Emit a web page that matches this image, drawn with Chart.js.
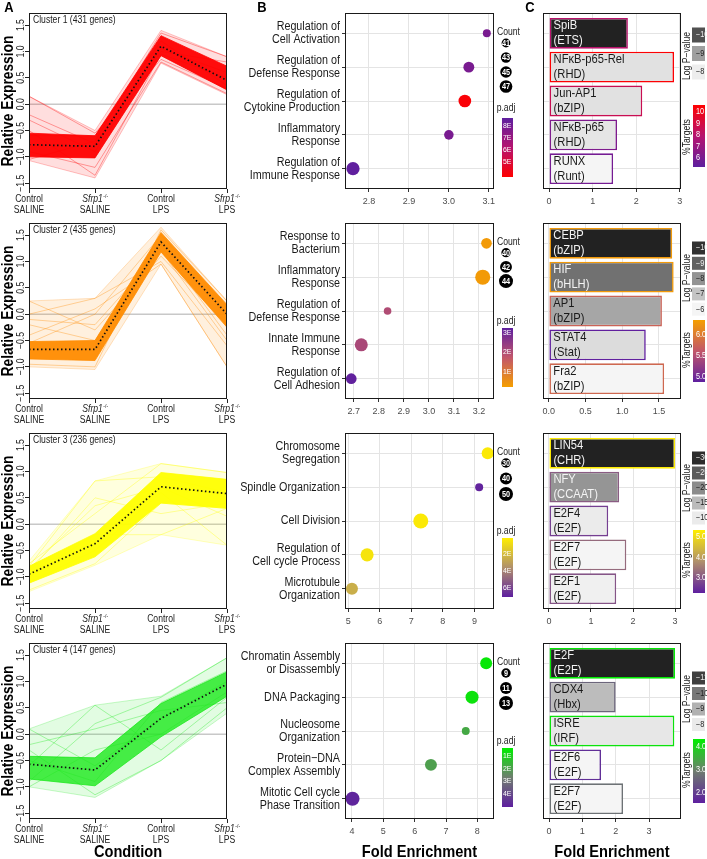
<!DOCTYPE html>
<html>
<head>
<meta charset="utf-8">
<script src="https://cdn.jsdelivr.net/npm/chart.js"></script>
<style>
  body { margin: 0; background: #fff; width: 707px; height: 859px; position: relative; overflow: hidden; }
  canvas { position: absolute; }
</style>
</head>
<body>
<script>
/* ---------- data ---------- */
const conditionTop = ["Control", "Sfrp1", "Control", "Sfrp1"];
const conditionMark = ["", "-/-", "", "-/-"];
const conditionBottom = ["SALINE", "SALINE", "LPS", "LPS"];
const exprTicks = ["−1.5", "−1.0", "−0.5", "0.0", "0.5", "1.0", "1.5"];
const clusterNames = ["Cluster 1 (431 genes)", "Cluster 2 (435 genes)", "Cluster 3 (236 genes)", "Cluster 4 (147 genes)"];

// cluster 1
const c1Mean = [-0.77, -0.80, 1.10, 0.45];
const c1CoreLow = [-1.00, -1.02, 0.92, 0.27];
const c1CoreHigh = [-0.55, -0.60, 1.30, 0.72];
const c1OuterLow = [-1.07, -1.40, 0.78, 0.18];
const c1OuterHigh = [0.15, -0.50, 1.40, 0.90];
const c1Genes = [[0.15, -0.55, 0.85, 0.30], [-0.30, -0.90, 1.00, 0.80], [-0.50, -1.35, 0.95, 0.50], [-1.05, -0.70, 1.35, 0.90], [-0.90, -1.20, 0.80, 0.20], [-0.60, -0.60, 1.20, 0.35], [-0.20, -0.75, 1.05, 0.60]];
const c1Terms = [["Regulation of", "Cell Activation"], ["Regulation of", "Defense Response"], ["Regulation of", "Cytokine Production"], ["Inflammatory", "Response"], ["Regulation of", "Immune Response"]];
const c1Fold = [3.095, 3.05, 3.04, 3.00, 2.76];
const c1Count = [40, 44, 47, 42, 48];
const c1Padj = [7.9, 7.9, 3.9, 7.9, 8.6];
const c1FoldTicks = ["2.8", "2.9", "3.0", "3.1"];
const c1CountBreaks = [41, 43, 45, 47];
const c1PadjTicks = [8, 7, 6, 5];
const c1Motifs = ["SpiB", "NFκB-p65-Rel", "Jun-AP1", "NFκB-p65", "RUNX"];
const c1Families = ["(ETS)", "(RHD)", "(bZIP)", "(RHD)", "(Runt)"];
const c1MotifFold = [1.81, 2.87, 2.14, 1.56, 1.47];
const c1LogP = [-10.6, -8.15, -8.15, -8.1, -7.9];
const c1Targets = [8.0, 10.5, 8.6, 6.2, 5.9];
const c1MotifTicks = ["0", "1", "2", "3"];
const c1LogPBreaks = ["−10", "−9", "−8"];
const c1TargetBreaks = ["10", "9", "8", "7", "6"];

// cluster 2
const c2Mean = [-0.67, -0.67, 1.37, 0.00];
const c2CoreLow = [-0.85, -0.88, 1.18, -0.25];
const c2CoreHigh = [-0.52, -0.50, 1.55, 0.18];
const c2OuterLow = [-1.00, -1.05, 0.95, -1.00];
const c2OuterHigh = [0.25, 0.30, 1.65, 0.25];
const c2Genes = [[0.25, -0.30, 1.10, -0.20], [0.00, 0.30, 1.00, -0.60], [-0.40, 0.10, 0.95, -1.00], [-0.95, -1.00, 1.60, 0.25], [-0.20, -0.50, 1.30, -0.40], [-0.55, 0.00, 1.50, 0.10], [-0.10, -0.20, 1.20, -0.50]];
const c2Terms = [["Response to", "Bacterium"], ["Inflammatory", "Response"], ["Regulation of", "Defense Response"], ["Innate Immune", "Response"], ["Regulation of", "Cell Adhesion"]];
const c2Fold = [3.23, 3.215, 2.835, 2.73, 2.69];
const c2Count = [41, 45, 39, 43, 41];
const c2Padj = [0.3, 0.3, 2.0, 2.1, 3.2];
const c2FoldTicks = ["2.7", "2.8", "2.9", "3.0", "3.1", "3.2"];
const c2CountBreaks = [40, 42, 44];
const c2PadjTicks = [3, 2, 1];
const c2Motifs = ["CEBP", "HIF", "AP1", "STAT4", "Fra2"];
const c2Families = ["(bZIP)", "(bHLH)", "(bZIP)", "(Stat)", "(bZIP)"];
const c2MotifFold = [1.68, 1.70, 1.54, 1.32, 1.57];
const c2LogP = [-10.3, -8.7, -7.6, -6.5, -6.0];
const c2Targets = [6.3, 6.3, 5.75, 4.9, 5.8];
const c2MotifTicks = ["0.0", "0.5", "1.0", "1.5"];
const c2LogPBreaks = ["−10", "−9", "−8", "−7", "−6"];
const c2TargetBreaks = ["6.0", "5.5", "5.0"];

// cluster 3
const c3Mean = [-0.95, -0.37, 0.71, 0.58];
const c3CoreLow = [-1.12, -0.62, 0.40, 0.30];
const c3CoreHigh = [-0.80, -0.18, 0.98, 0.85];
const c3OuterLow = [-1.28, -0.78, -0.20, -0.40];
const c3OuterHigh = [-0.70, 0.82, 1.15, 0.98];
const c3Genes = [[-1.25, -0.75, 0.40, 0.30], [-0.80, 0.82, 0.90, 0.60], [-0.90, 0.50, 0.20, 0.40], [-1.00, -0.20, -0.20, 0.30], [-0.75, 0.20, 1.15, 0.98], [-1.10, -0.50, 0.60, -0.40], [-0.85, 0.35, 0.70, 0.15]];
const c3Terms = [["Chromosome", "Segregation"], ["Spindle Organization"], ["Cell Division"], ["Regulation of", "Cell cycle Process"], ["Microtubule", "Organization"]];
const c3Fold = [9.42, 9.15, 7.30, 5.60, 5.12];
const c3Count = [40, 25, 55, 45, 40];
const c3Padj = [0.3, 6.9, 0.3, 0.5, 2.5];
const c3FoldTicks = ["5", "6", "7", "8", "9"];
const c3CountBreaks = [30, 40, 50];
const c3PadjTicks = [2, 4, 6];
const c3Motifs = ["LIN54", "NFY", "E2F4", "E2F7", "E2F1"];
const c3Families = ["(CHR)", "(CCAAT)", "(E2F)", "(E2F)", "(E2F)"];
const c3MotifFold = [3.0, 1.67, 1.41, 1.84, 1.60];
const c3LogP = [-31, -19, -10, -9, -9.5];
const c3Targets = [5.3, 3.1, 2.7, 3.3, 3.0];
const c3MotifTicks = ["0", "1", "2", "3"];
const c3LogPBreaks = ["−30", "−25", "−20", "−15", "−10"];
const c3TargetBreaks = ["5.0", "4.0", "3.0"];

// cluster 4
const c4Mean = [-0.57, -0.68, 0.30, 0.95];
const c4CoreLow = [-0.85, -0.98, -0.05, 0.72];
const c4CoreHigh = [-0.42, -0.45, 0.58, 1.18];
const c4OuterLow = [-1.00, -1.20, -0.50, 0.40];
const c4OuterHigh = [0.10, 0.55, 0.72, 1.45];
const c4Genes = [[0.10, -0.60, 0.30, 1.00], [-0.60, 0.55, -0.30, 0.70], [-0.90, 0.20, 0.70, 1.45], [-0.30, -1.15, -0.50, 0.50], [-1.00, -0.30, 0.00, 0.80], [-0.50, -0.90, 0.60, 1.20], [-0.20, 0.10, 0.45, 0.60]];
const c4Terms = [["Chromatin Assembly", "or Disassembly"], ["DNA Packaging"], ["Nucleosome", "Organization"], ["Protein−DNA", "Complex Assembly"], ["Mitotic Cell cycle", "Phase Transition"]];
const c4Fold = [8.28, 7.83, 7.63, 6.52, 4.02];
const c4Count = [11, 12, 8, 11, 13];
const c4Padj = [0.5, 0.6, 1.8, 2.0, 4.9];
const c4FoldTicks = ["4", "5", "6", "7", "8"];
const c4CountBreaks = [9, 11, 13];
const c4PadjTicks = [1, 2, 3, 4];
const c4Motifs = ["E2F", "CDX4", "ISRE", "E2F6", "E2F7"];
const c4Families = ["(E2F)", "(Hbx)", "(IRF)", "(E2F)", "(E2F)"];
const c4MotifFold = [3.78, 2.0, 3.76, 1.56, 2.22];
const c4LogP = [-11.5, -8.8, -8.05, -7.8, -7.8];
const c4Targets = [4.3, 2.6, 4.2, 1.8, 2.8];
const c4MotifTicks = ["0", "1", "2", "3"];
const c4LogPBreaks = ["−11", "−10", "−9", "−8"];
const c4TargetBreaks = ["4.0", "3.0", "2.0"];

/* ---------- styling ---------- */
const SANS = "'Liberation Sans', Arial, Helvetica, sans-serif";
const SQ = 0.86; // the figure's lettering is a little condensed
const PURPLE = "#5e1f9f";
const GRID = "#e4e4e4";
Chart.defaults.font.family = SANS;

const clusters = [
  {
    title: clusterNames[0], band: "#ff0000", coreAlpha: 0.95,
    mean: c1Mean, coreLow: c1CoreLow, coreHigh: c1CoreHigh, outerLow: c1OuterLow, outerHigh: c1OuterHigh, genes: c1Genes,
    terms: c1Terms, fold: c1Fold, count: c1Count, padj: c1Padj, foldTicks: c1FoldTicks, countBreaks: c1CountBreaks, padjTicks: c1PadjTicks,
    motifs: c1Motifs, families: c1Families, motifFold: c1MotifFold, logP: c1LogP, targets: c1Targets,
    motifTicks: c1MotifTicks, logPBreaks: c1LogPBreaks, targetBreaks: c1TargetBreaks,
    foldRange: [2.74, 3.113], motifRange: [-0.14, 3.03], countDomain: [40, 48], rRange: [4, 6.6],
    padjRamp: ["#ff0000", "#b5136f", PURPLE], padjBar: [3.75, 8.67],
    targetRamp: [PURPLE, "#b5136f", "#ff0000"], targetBar: [5.2, 10.6], greyRange: [-10.6, -7.9],
    lay: { countY: 30, countStep: 14.5, padjY: 95.5, logTitle: 43, swY: 22, swStep: 18.5, swH: 15, tgTitle: 124, tgTop: 92, tgBot: 154 }
  },
  {
    title: clusterNames[1], band: "#ff8c00", coreAlpha: 0.95,
    mean: c2Mean, coreLow: c2CoreLow, coreHigh: c2CoreHigh, outerLow: c2OuterLow, outerHigh: c2OuterHigh, genes: c2Genes,
    terms: c2Terms, fold: c2Fold, count: c2Count, padj: c2Padj, foldTicks: c2FoldTicks, countBreaks: c2CountBreaks, padjTicks: c2PadjTicks,
    motifs: c2Motifs, families: c2Families, motifFold: c2MotifFold, logP: c2LogP, targets: c2Targets,
    motifTicks: c2MotifTicks, logPBreaks: c2LogPBreaks, targetBreaks: c2TargetBreaks,
    foldRange: [2.665, 3.26], motifRange: [-0.08, 1.80], countDomain: [39, 45], rRange: [3.8, 7.5],
    padjRamp: ["#f59f00", "#c2566a", PURPLE], padjBar: [0.2, 3.25],
    targetRamp: [PURPLE, "#c2566a", "#f59f00"], targetBar: [4.88, 6.36], greyRange: [-10.3, -6.0],
    lay: { countY: 29.7, countStep: 14.2, padjY: 98, logTitle: 55, swY: 25, swStep: 15.3, swH: 13, tgTitle: 127, tgTop: 97, tgBot: 159 }
  },
  {
    title: clusterNames[2], band: "#ffff00", coreAlpha: 0.95,
    mean: c3Mean, coreLow: c3CoreLow, coreHigh: c3CoreHigh, outerLow: c3OuterLow, outerHigh: c3OuterHigh, genes: c3Genes,
    terms: c3Terms, fold: c3Fold, count: c3Count, padj: c3Padj, foldTicks: c3FoldTicks, countBreaks: c3CountBreaks, padjTicks: c3PadjTicks,
    motifs: c3Motifs, families: c3Families, motifFold: c3MotifFold, logP: c3LogP, targets: c3Targets,
    motifTicks: c3MotifTicks, logPBreaks: c3LogPBreaks, targetBreaks: c3TargetBreaks,
    foldRange: [4.9, 9.62], motifRange: [-0.14, 3.14], countDomain: [25, 55], rRange: [4, 7.5],
    padjRamp: [PURPLE, "#b0906c", "#ffee00"], padjBar: [7.06, 0.12],
    targetRamp: [PURPLE, "#b0906c", "#ffee00"], targetBar: [2.27, 5.34], greyRange: [-31, -9],
    lay: { countY: 30, countStep: 15.5, padjY: 98, logTitle: 55, swY: 25, swStep: 15, swH: 13, tgTitle: 127, tgTop: 97, tgBot: 160 }
  },
  {
    title: clusterNames[3], band: "#1ee81e", coreAlpha: 0.8,
    mean: c4Mean, coreLow: c4CoreLow, coreHigh: c4CoreHigh, outerLow: c4OuterLow, outerHigh: c4OuterHigh, genes: c4Genes,
    terms: c4Terms, fold: c4Fold, count: c4Count, padj: c4Padj, foldTicks: c4FoldTicks, countBreaks: c4CountBreaks, padjTicks: c4PadjTicks,
    motifs: c4Motifs, families: c4Families, motifFold: c4MotifFold, logP: c4LogP, targets: c4Targets,
    motifTicks: c4MotifTicks, logPBreaks: c4LogPBreaks, targetBreaks: c4TargetBreaks,
    foldRange: [3.78, 8.53], motifRange: [-0.18, 3.96], countDomain: [7.5, 13], rRange: [3.5, 7],
    padjRamp: [PURPLE, "#6f7d6f", "#00ee00"], padjBar: [5.05, 0.35],
    targetRamp: [PURPLE, "#6f7d6f", "#00ee00"], targetBar: [1.57, 4.35], greyRange: [-11.5, -7.8],
    lay: { countY: 30, countStep: 15, padjY: 98, logTitle: 56, swY: 35, swStep: 15.5, swH: 13, tgTitle: 127, tgTop: 96, tgBot: 160 }
  }
];

/* ---------- helpers ---------- */
function num(s) { return parseFloat(String(s).replace("−", "-")); }
function rgb(hex) { const n = parseInt(hex.slice(1), 16); return [n >> 16, (n >> 8) & 255, n & 255]; }
function fade(hex, a) { return "rgba(" + rgb(hex).join(",") + "," + a + ")"; }
function mix(a, b, t) {
  const p = rgb(a), q = rgb(b);
  return "rgb(" + p.map((v, i) => Math.round(v + (q[i] - v) * t)).join(",") + ")";
}
function ramp(stops, t) {
  t = Math.max(0, Math.min(1, t));
  return t < 0.5 ? mix(stops[0], stops[1], t * 2) : mix(stops[1], stops[2], t * 2 - 1);
}
function frac(v, range) { return (v - range[0]) / (range[1] - range[0]); }
function greyLevel(v, range) { return Math.round(34 + Math.max(0, Math.min(1, frac(v, range))) * 211); }
function grey(v, range) { const g = greyLevel(v, range); return "rgb(" + g + "," + g + "," + g + ")"; }
function radius(cl, c) {
  const [r0, r1] = cl.rRange;
  const t = Math.max(0, frac(c, cl.countDomain));
  return Math.sqrt(r0 * r0 + t * (r1 * r1 - r0 * r0));
}
function pts(arr) { return arr.map((v, i) => ({ x: i, y: v })); }

// all hand-placed lettering goes through here, squeezed a little to match the figure
function text(ctx, s, x, y, font, color, align, rot) {
  ctx.save();
  ctx.font = font;
  ctx.fillStyle = color;
  ctx.textAlign = align || "center";
  ctx.textBaseline = "middle";
  ctx.translate(x, y);
  if (rot) ctx.rotate(rot);
  ctx.scale(SQ, 1);
  ctx.fillText(s, 0, 0);
  ctx.restore();
}
function textWidth(ctx, s, font) { ctx.font = font; return ctx.measureText(s).width * SQ; }
function box(ctx, a) {
  ctx.save();
  ctx.strokeStyle = "#1a1a1a";
  ctx.lineWidth = 1;
  ctx.strokeRect(Math.round(a.left) + 0.5, Math.round(a.top) + 0.5, Math.round(a.width) - 1, Math.round(a.height) - 1);
  ctx.restore();
}
function colorbar(ctx, x, y, w, h, stops) {
  const g = ctx.createLinearGradient(0, y + h, 0, y);
  for (let k = 0; k <= 10; k++) g.addColorStop(k / 10, ramp(stops, k / 10));
  ctx.fillStyle = g;
  ctx.fillRect(x, y, w, h);
}
function fixAxis(w, h) {
  return function (scale) {
    if (w != null) scale.width = w;
    if (h != null) scale.height = h;
    scale.paddingLeft = scale.paddingRight = scale.paddingTop = scale.paddingBottom = 0;
  };
}
function tickList(labels) {
  return function (scale) { scale.ticks = labels.map(s => ({ value: num(s) })); };
}
function makeCanvas(left, top, w, h) {
  const c = document.createElement("canvas");
  c.width = w; c.height = h;
  c.style.left = left + "px"; c.style.top = top + "px";
  c.style.width = w + "px"; c.style.height = h + "px";
  document.body.appendChild(c);
  return c;
}
const ROT = -Math.PI / 2;

/* ---------- panel A: expression profiles ---------- */
function drawProfiles(r) {
  const cl = clusters[r];
  const H = r === 3 ? 229 : 220;
  const cv = makeCanvas(0, 210 * r, 245, H);
  const ds = [];
  ds.push({ data: pts(cl.outerLow), borderColor: fade(cl.band, 0.3), borderWidth: 0.8, fill: false, order: 4 });
  ds.push({ data: pts(cl.outerHigh), borderColor: fade(cl.band, 0.3), borderWidth: 0.8, backgroundColor: fade(cl.band, 0.13), fill: "-1", order: 4 });
  cl.genes.forEach(g => ds.push({ data: pts(g), borderColor: fade(cl.band, 0.45), borderWidth: 0.8, fill: false, order: 3 }));
  ds.push({ data: pts(cl.coreLow), borderColor: fade(cl.band, 0.8), borderWidth: 1, fill: false, order: 2 });
  ds.push({ data: pts(cl.coreHigh), borderColor: fade(cl.band, 0.8), borderWidth: 1, backgroundColor: fade(cl.band, cl.coreAlpha), fill: "-1", order: 2 });
  ds.push({ data: pts(cl.mean), borderColor: "#111", borderWidth: 1.7, borderDash: [1.5, 2.5], fill: false, order: 1 });

  const deco = {
    id: "profiles" + r,
    beforeDatasetsDraw(chart) {
      const { ctx, chartArea: a, scales: { y } } = chart;
      const y0 = y.getPixelForValue(0);
      ctx.save();
      ctx.strokeStyle = "#c8c8c8"; ctx.lineWidth = 1.5;
      ctx.beginPath(); ctx.moveTo(a.left, y0); ctx.lineTo(a.right, y0); ctx.stroke();
      ctx.restore();
    },
    afterDraw(chart) {
      const { ctx, chartArea: a, scales: { x, y } } = chart;
      box(ctx, a);
      const f = "10px " + SANS;
      exprTicks.forEach(s => text(ctx, s, a.left - 7.5, y.getPixelForValue(num(s)), "10px " + SANS, "#222", "center", ROT));
      conditionTop.forEach((s, i) => {
        const xp = x.getPixelForValue(i), y1 = a.bottom + 10, y2 = a.bottom + 21;
        if (conditionMark[i]) {
          const w1 = textWidth(ctx, s, "italic " + f);
          const w2 = textWidth(ctx, conditionMark[i], "6px " + SANS);
          const x0 = xp - (w1 + w2) / 2;
          text(ctx, s, x0, y1, "italic " + f, "#222", "left");
          text(ctx, conditionMark[i], x0 + w1 + 0.5, y1 - 3, "6px " + SANS, "#222", "left");
        } else {
          text(ctx, s, xp, y1, f, "#222", "center");
        }
        text(ctx, conditionBottom[i], xp, y2, f, "#222", "center");
      });
      text(ctx, cl.title, a.left + 4, a.top + 7, "10px " + SANS, "#222", "left");
      text(ctx, "Relative Expression", 9, (a.top + a.bottom) / 2, "bold 16px " + SANS, "#000", "center", ROT);
      if (r === 0) text(ctx, "A", 9, 8, "bold 15px " + SANS, "#000", "center");
      if (r === 3) text(ctx, "Condition", (a.left + a.right) / 2, a.bottom + 33, "bold 17px " + SANS, "#000", "center");
    }
  };

  new Chart(cv, {
    type: "line",
    data: { datasets: ds },
    options: {
      responsive: false, animation: false,
      layout: { padding: { left: 0, right: 18, top: 13, bottom: 0 } },
      elements: { point: { radius: 0 }, line: { tension: 0 } },
      plugins: { legend: { display: false }, tooltip: { enabled: false } },
      scales: {
        x: {
          type: "linear", min: 0, max: 3,
          afterBuildTicks: s => { s.ticks = conditionTop.map((_, i) => ({ value: i })); },
          ticks: { display: false },
          grid: { drawOnChartArea: false, drawTicks: true, tickLength: 4, color: "#222" },
          border: { display: false },
          afterFit: fixAxis(null, H - 189)
        },
        y: {
          type: "linear", min: -1.61, max: 1.73,
          afterBuildTicks: tickList(exprTicks),
          ticks: { display: false },
          grid: { drawOnChartArea: false, drawTicks: true, tickLength: 4, color: "#222" },
          border: { display: false },
          afterFit: fixAxis(29, null)
        }
      }
    },
    plugins: [deco]
  });
}

/* ---------- panel B: GO enrichment dot plots ---------- */
function drawTerms(r) {
  const cl = clusters[r];
  const H = r === 3 ? 229 : 215;
  const cv = makeCanvas(232, 210 * r, 300, H);
  const L = cl.lay;

  const deco = {
    id: "terms" + r,
    afterDraw(chart) {
      const { ctx, chartArea: a, scales: { y } } = chart;
      box(ctx, a);
      // term names, right-aligned beside the panel
      cl.terms.forEach((lines, k) => {
        const yc = y.getPixelForValue(k + 1);
        lines.forEach((s, j) => {
          const yy = yc + (j - (lines.length - 1) / 2) * 13;
          text(ctx, s, a.left - 5, yy, "12.5px " + SANS, "#1a1a1a", "right");
        });
      });
      const cx = a.right + 12;
      text(ctx, "Count", a.right + 3, a.top + 19, "10px " + SANS, "#222", "left");
      cl.countBreaks.forEach((c, k) => {
        const cy = a.top + L.countY + k * L.countStep;
        ctx.beginPath(); ctx.arc(cx, cy, radius(cl, c), 0, 2 * Math.PI);
        ctx.fillStyle = "#000"; ctx.fill();
        text(ctx, String(c), cx, cy + 0.5, "bold 8.5px " + SANS, "#fff", "center");
      });
      text(ctx, "p.adj", cx, a.top + L.padjY, "10px " + SANS, "#222", "center");
      const top = a.top + 105, h = 59;
      colorbar(ctx, a.right + 8, top, 11, h, cl.padjRamp);
      cl.padjTicks.forEach(v => {
        const t = frac(v, cl.padjBar);
        text(ctx, v + "E", a.right + 9, top + (1 - t) * h, "8px " + SANS, "#fff", "left");
      });
      if (r === 0) text(ctx, "B", 30, 8, "bold 15px " + SANS, "#000", "center");
      if (r === 3) text(ctx, "Fold Enrichment", (a.left + a.right) / 2, a.bottom + 33, "bold 17px " + SANS, "#000", "center");
    }
  };

  new Chart(cv, {
    type: "bubble",
    data: {
      datasets: [{
        data: cl.terms.map((t, k) => ({ x: cl.fold[k], y: k + 1, r: radius(cl, cl.count[k]) })),
        backgroundColor: cl.padj.map(v => ramp(cl.padjRamp, frac(v, cl.padjBar))),
        borderWidth: 0, hoverRadius: 0, clip: false
      }]
    },
    options: {
      responsive: false, animation: false,
      layout: { padding: { left: 0, right: 38, top: 13, bottom: 0 } },
      plugins: { legend: { display: false }, tooltip: { enabled: false } },
      scales: {
        x: {
          type: "linear", min: cl.foldRange[0], max: cl.foldRange[1],
          afterBuildTicks: tickList(cl.foldTicks),
          ticks: { callback: (v, i) => cl.foldTicks[i], font: { size: 9 }, color: "#4d4d4d", padding: 4 },
          grid: { color: GRID, tickLength: 3, tickColor: "#333" },
          border: { display: false },
          afterFit: fixAxis(null, H - 189)
        },
        y: {
          type: "linear", min: 0.4, max: 5.6, reverse: true, offset: false,
          afterBuildTicks: s => { s.ticks = cl.terms.map((_, k) => ({ value: k + 1 })); },
          ticks: { display: false },
          grid: { color: GRID, drawTicks: true, tickLength: 3, tickColor: "#333", offset: false },
          border: { display: false },
          afterFit: fixAxis(113, null)
        }
      }
    },
    plugins: [deco]
  });
}

/* ---------- panel C: motif enrichment bars ---------- */
function drawMotifs(r) {
  const cl = clusters[r];
  const H = r === 3 ? 229 : 215;
  const cv = makeCanvas(520, 210 * r, 187, H);
  const L = cl.lay;

  const deco = {
    id: "motifs" + r,
    afterDatasetsDraw(chart) {
      const { ctx } = chart;
      chart.getDatasetMeta(0).data.forEach((bar, k) => {
        const p = bar.getProps(["x", "y", "base"], true);
        const col = greyLevel(cl.logP[k], cl.greyRange) < 160 ? "#f4f4f4" : "#1a1a1a";
        const f = "13px " + SANS;
        text(ctx, cl.motifs[k], p.base + 4, p.y - 7.5, f, col, "left");
        text(ctx, cl.families[k], p.base + 4, p.y + 7.5, f, col, "left");
      });
    },
    afterDraw(chart) {
      const { ctx, chartArea: a } = chart;
      box(ctx, a);
      text(ctx, "Log P−value", a.right + 6, a.top + L.logTitle, "10px " + SANS, "#222", "center", ROT);
      cl.logPBreaks.forEach((s, k) => {
        const cy = a.top + L.swY + k * L.swStep;
        ctx.fillStyle = grey(num(s), cl.greyRange);
        ctx.fillRect(a.right + 11, cy - L.swH / 2, 13, L.swH);
        const dark = greyLevel(num(s), cl.greyRange) < 110;
        text(ctx, s, a.right + 15, cy, "8.5px " + SANS, dark ? "#eee" : "#222", "left");
      });
      text(ctx, "%Targets", a.right + 6, a.top + L.tgTitle, "10px " + SANS, "#222", "center", ROT);
      const h = L.tgBot - L.tgTop;
      colorbar(ctx, a.right + 12, a.top + L.tgTop, 12, h, cl.targetRamp);
      cl.targetBreaks.forEach(s => {
        const t = frac(num(s), cl.targetBar);
        text(ctx, s, a.right + 15, a.top + L.tgTop + (1 - t) * h, "8.5px " + SANS, "#fff", "left");
      });
      if (r === 0) text(ctx, "C", 10, 8, "bold 15px " + SANS, "#000", "center");
      if (r === 3) text(ctx, "Fold Enrichment", (a.left + a.right) / 2, a.bottom + 33, "bold 17px " + SANS, "#000", "center");
    }
  };

  new Chart(cv, {
    type: "bar",
    data: {
      datasets: [{
        data: cl.motifFold.map((v, k) => ({ x: v, y: k + 1 })),
        backgroundColor: cl.logP.map(v => grey(v, cl.greyRange)),
        borderColor: cl.targets.map(v => ramp(cl.targetRamp, frac(v, cl.targetBar))),
        borderWidth: 1.6, borderSkipped: false,
        barPercentage: 0.91, categoryPercentage: 1
      }]
    },
    options: {
      indexAxis: "y",
      responsive: false, animation: false,
      layout: { padding: { left: 0, right: 26, top: 13, bottom: 0 } },
      plugins: { legend: { display: false }, tooltip: { enabled: false } },
      scales: {
        x: {
          type: "linear", min: cl.motifRange[0], max: cl.motifRange[1], offset: false,
          afterBuildTicks: tickList(cl.motifTicks),
          ticks: { callback: (v, i) => cl.motifTicks[i], font: { size: 9 }, color: "#4d4d4d", padding: 4 },
          grid: { color: GRID, tickLength: 3, tickColor: "#333", offset: false },
          border: { display: false },
          afterFit: fixAxis(null, H - 189)
        },
        y: {
          type: "linear", min: 0.4, max: 5.6, reverse: true, offset: false,
          afterBuildTicks: s => { s.ticks = cl.motifs.map((_, k) => ({ value: k + 1 })); },
          ticks: { display: false },
          grid: { color: GRID, drawTicks: false, offset: false },
          border: { display: false },
          afterFit: fixAxis(23, null)
        }
      }
    },
    plugins: [deco]
  });
}

for (let r = 0; r < 4; r++) {
  drawProfiles(r);
  drawTerms(r);
  drawMotifs(r);
}
</script>
</body>
</html>
